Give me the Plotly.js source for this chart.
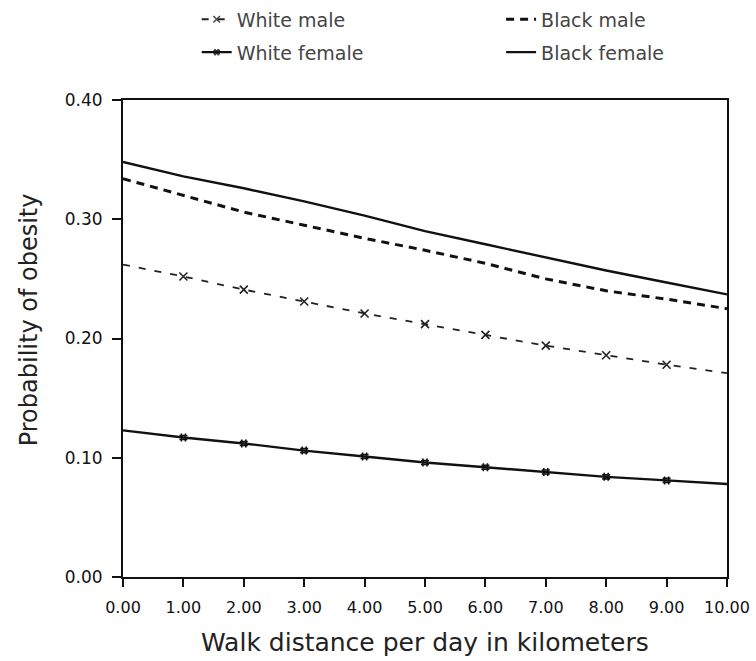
<!DOCTYPE html>
<html>
<head>
<meta charset="utf-8">
<script src="https://cdn.plot.ly/plotly-3.0.1.min.js"></script>
<style>html,body{margin:0;padding:0;background:#fff;}#chart{width:756px;height:661px;}</style>
</head>
<body>
<div id="chart"></div>
<script>
// Data
var walkKm = [0, 1, 2, 3, 4, 5, 6, 7, 8, 9, 10];
var xTickLabels = ["0.00","1.00","2.00","3.00","4.00","5.00","6.00","7.00","8.00","9.00","10.00"];
var yTickValues = [0, 0.1, 0.2, 0.3, 0.4];
var yTickLabels = ["0.00","0.10","0.20","0.30","0.40"];
var whiteMale   = [0.262, 0.252, 0.241, 0.231, 0.221, 0.212, 0.203, 0.194, 0.186, 0.178, 0.171];
var blackMale   = [0.334, 0.320, 0.306, 0.295, 0.284, 0.274, 0.263, 0.250, 0.240, 0.233, 0.225];
var whiteFemale = [0.123, 0.117, 0.112, 0.106, 0.101, 0.096, 0.092, 0.088, 0.084, 0.081, 0.078];
var blackFemale = [0.348, 0.336, 0.326, 0.315, 0.303, 0.290, 0.279, 0.268, 0.257, 0.247, 0.237];
var seriesNames = ["White male", "Black male", "White female", "Black female"];

var FONT = "DejaVu Sans, Arial, sans-serif";
var INK = "#111";

// markers only on interior points (1..9)
var mSize = walkKm.map(function(v, i){ return (i === 0 || i === walkKm.length - 1) ? 0 : 8; });
var mOpac = walkKm.map(function(v, i){ return (i === 0 || i === walkKm.length - 1) ? 0 : 1; });

var traces = [
  {x: walkKm, y: whiteMale, name: seriesNames[0], mode: "lines+markers", legend: "legend",
   line: {color: "#222", width: 1.8, dash: "7px,9px"},
   marker: {symbol: "x-thin-open", size: mSize, opacity: mOpac, color: "#222", line: {color: "#222", width: 1.6}}},
  {x: walkKm, y: blackMale, name: seriesNames[1], mode: "lines", legend: "legend2",
   line: {color: INK, width: 3, dash: "8px,6px"}},
  {x: walkKm, y: whiteFemale, name: seriesNames[2], mode: "lines+markers", legend: "legend3",
   line: {color: INK, width: 2.4},
   marker: {symbol: "hash-open", size: mSize, opacity: mOpac, color: INK, line: {color: INK, width: 1.6}}},
  {x: walkKm, y: blackFemale, name: seriesNames[3], mode: "lines", legend: "legend4",
   line: {color: INK, width: 2.4}}
];

function legendAt(x, y) {
  return {
    orientation: "v", xref: "paper", yref: "paper", xanchor: "left", yanchor: "middle",
    x: x, y: y,
    font: {family: FONT, size: 19, color: "#444"}, bgcolor: "rgba(0,0,0,0)", borderwidth: 0,
    itemclick: false
  };
}

var layout = {
  width: 756, height: 661,
  margin: {l: 123, r: 29, t: 100, b: 84, autoexpand: false},
  paper_bgcolor: "#fff", plot_bgcolor: "#fff",
  font: {family: FONT, color: INK},
  showlegend: true,
  legend: legendAt(0.122, 1.169),
  legend2: legendAt(0.626, 1.169),
  legend3: legendAt(0.122, 1.100),
  legend4: legendAt(0.626, 1.100),
  xaxis: {
    range: [0, 10], tickvals: walkKm, ticktext: xTickLabels,
    showgrid: false, zeroline: false, showline: true, mirror: true,
    linecolor: INK, linewidth: 2, ticks: "outside", ticklen: 8, tickwidth: 2, tickcolor: INK,
    ticklabelstandoff: 7,
    tickfont: {family: FONT, size: 16, color: INK}, fixedrange: true
  },
  yaxis: {
    range: [0, 0.4], tickvals: yTickValues, ticktext: yTickLabels,
    showgrid: false, zeroline: false, showline: true, mirror: true,
    linecolor: INK, linewidth: 2, ticks: "outside", ticklen: 9, tickwidth: 2, tickcolor: INK,
    ticklabelstandoff: 6,
    tickfont: {family: FONT, size: 17, color: INK}, fixedrange: true
  },
  annotations: [
    {text: "Walk distance per day in kilometers", xref: "paper", yref: "paper",
     x: 0.5, y: -0.137, xanchor: "center", yanchor: "middle", showarrow: false,
     font: {family: FONT, size: 25, color: "#222"}},
    {text: "Probability of obesity", xref: "paper", yref: "paper",
     x: -0.155, y: 0.539, xanchor: "center", yanchor: "middle", textangle: -90, showarrow: false,
     font: {family: FONT, size: 24, color: "#222"}}
  ]
};

Plotly.newPlot("chart", traces, layout, {displayModeBar: false, staticPlot: true});
</script>
</body>
</html>
